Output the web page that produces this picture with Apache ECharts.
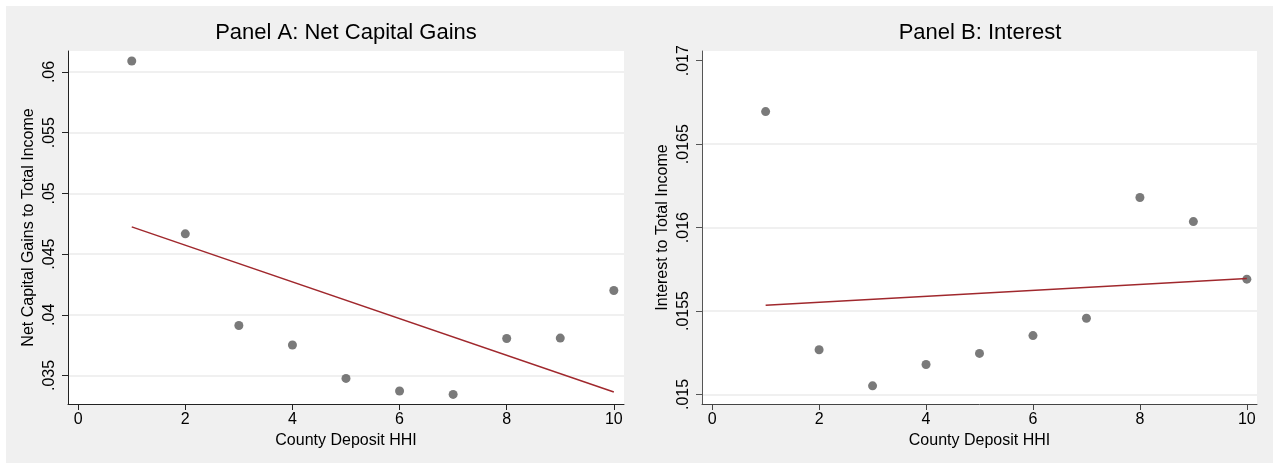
<!DOCTYPE html>
<html><head><meta charset="utf-8">
<script src="https://cdn.jsdelivr.net/npm/echarts@6/dist/echarts.min.js"></script>
<style>html,body{margin:0;padding:0;background:#fff}#c{width:1275px;height:464px}</style>
</head><body><div id="c"></div>
<script>
// ---- data ----
const hhi = [1, 2, 3, 4, 5, 6, 7, 8, 9, 10];
const capGains = [0.0609, 0.04667, 0.03912, 0.03751, 0.03476, 0.03372, 0.03344, 0.03805, 0.03808, 0.0420];
const interest = [0.016695, 0.015268, 0.015052, 0.01518, 0.015246, 0.015353, 0.015457, 0.01618, 0.016036, 0.015691];
const capGainsFit = [[1, 0.04724], [10, 0.03364]];
const interestFit = [[1, 0.015535], [10, 0.015695]];
const xTicks = [0, 2, 4, 6, 8, 10];
const capTicks = [0.035, 0.04, 0.045, 0.05, 0.055, 0.06];
const intTicks = [0.015, 0.0155, 0.016, 0.0165, 0.017];
const intGridTicks = [0.015, 0.0155, 0.016, 0.0165];
const titles = ['Panel A: Net Capital Gains', 'Panel B: Interest'];
const xTitle = 'County Deposit HHI';
const yTitles = ['Net Capital Gains to Total Income', 'Interest to Total Income'];

const FONT = '"Liberation Sans", Arial, sans-serif';
const fmt = v => String(v).replace(/^0\./, '.');

function mkX(i, col) {
  return {
    gridIndex: i, type: 'value', min: -0.19, max: 10.19,
    name: xTitle, nameLocation: 'middle', nameGap: 25,
    nameTextStyle: { fontSize: 16, color: '#000', fontFamily: FONT },
    axisLine: { show: true, onZero: false, lineStyle: { color: col, width: 1 } },
    axisTick: { show: true, length: 6, customValues: xTicks, lineStyle: { color: col } },
    axisLabel: { customValues: xTicks, fontSize: 16, color: '#000', margin: 8, fontFamily: FONT },
    splitLine: { show: false }
  };
}
function mkY(i, col, name, ticks, min, max, grid) {
  return {
    gridIndex: i, type: 'value', min: min, max: max,
    name: name, nameLocation: 'middle', nameGap: 31,
    nameTextStyle: { fontSize: 16, color: '#000', fontFamily: FONT },
    axisLine: { show: true, onZero: false, lineStyle: { color: col, width: 1 } },
    axisTick: { show: true, length: 6, customValues: ticks, lineStyle: { color: col } },
    axisLabel: { customValues: ticks, rotate: 90, fontSize: 16, color: '#000', margin: 10, fontFamily: FONT, formatter: fmt },
    splitLine: { show: grid, lineStyle: { color: '#ebebeb', width: 1.5 } }
  };
}

const chart = echarts.init(document.getElementById('c'), null, { renderer: 'canvas' });
chart.setOption({
  animation: false,
  backgroundColor: '#fff',
  textStyle: { fontFamily: FONT },
  graphic: [
    { type: 'rect', z: -100, silent: true, shape: { x: 6, y: 6, width: 1267, height: 457 }, style: { fill: '#f0f0f0' } },
    { type: 'text', x: 346, y: 33, style: { text: titles[0], fontSize: 22, fontFamily: FONT, fill: '#000', align: 'center', verticalAlign: 'middle' } },
    { type: 'text', x: 980, y: 33, style: { text: titles[1], fontSize: 22, fontFamily: FONT, fill: '#000', align: 'center', verticalAlign: 'middle' } }
  ],
  grid: [
    { left: 68, top: 51, width: 556, height: 353, show: true, backgroundColor: '#fff', borderWidth: 0 },
    { left: 702, top: 51, width: 555, height: 353, show: true, backgroundColor: '#fff', borderWidth: 0 }
  ],
  xAxis: [mkX(0, '#222'), mkX(1, '#444')],
  yAxis: [
    mkY(0, '#222', yTitles[0], capTicks, 0.032652, 0.061728, true),
    mkY(1, '#555', yTitles[1], intTicks, 0.014943, 0.017058, false),
    {
      gridIndex: 1, type: 'value', min: 0.014943, max: 0.017058,
      axisLine: { show: false }, axisLabel: { show: false },
      axisTick: { show: false, customValues: intGridTicks },
      splitLine: { show: true, lineStyle: { color: '#ebebeb', width: 1.5 } }
    }
  ],
  series: [
    { type: 'scatter', xAxisIndex: 0, yAxisIndex: 0, symbolSize: 9, itemStyle: { color: '#595959' },
      data: hhi.map((x, i) => [x, capGains[i]]) },
    { type: 'line', xAxisIndex: 0, yAxisIndex: 0, symbol: 'none', z: 3,
      lineStyle: { color: '#a0282d', width: 1.5 }, data: capGainsFit },
    { type: 'scatter', xAxisIndex: 1, yAxisIndex: 1, symbolSize: 9, itemStyle: { color: '#595959' },
      data: hhi.map((x, i) => [x, interest[i]]) },
    { type: 'line', xAxisIndex: 1, yAxisIndex: 1, symbol: 'none', z: 3,
      lineStyle: { color: '#a0282d', width: 1.5 }, data: interestFit }
  ]
});
</script></body></html>
